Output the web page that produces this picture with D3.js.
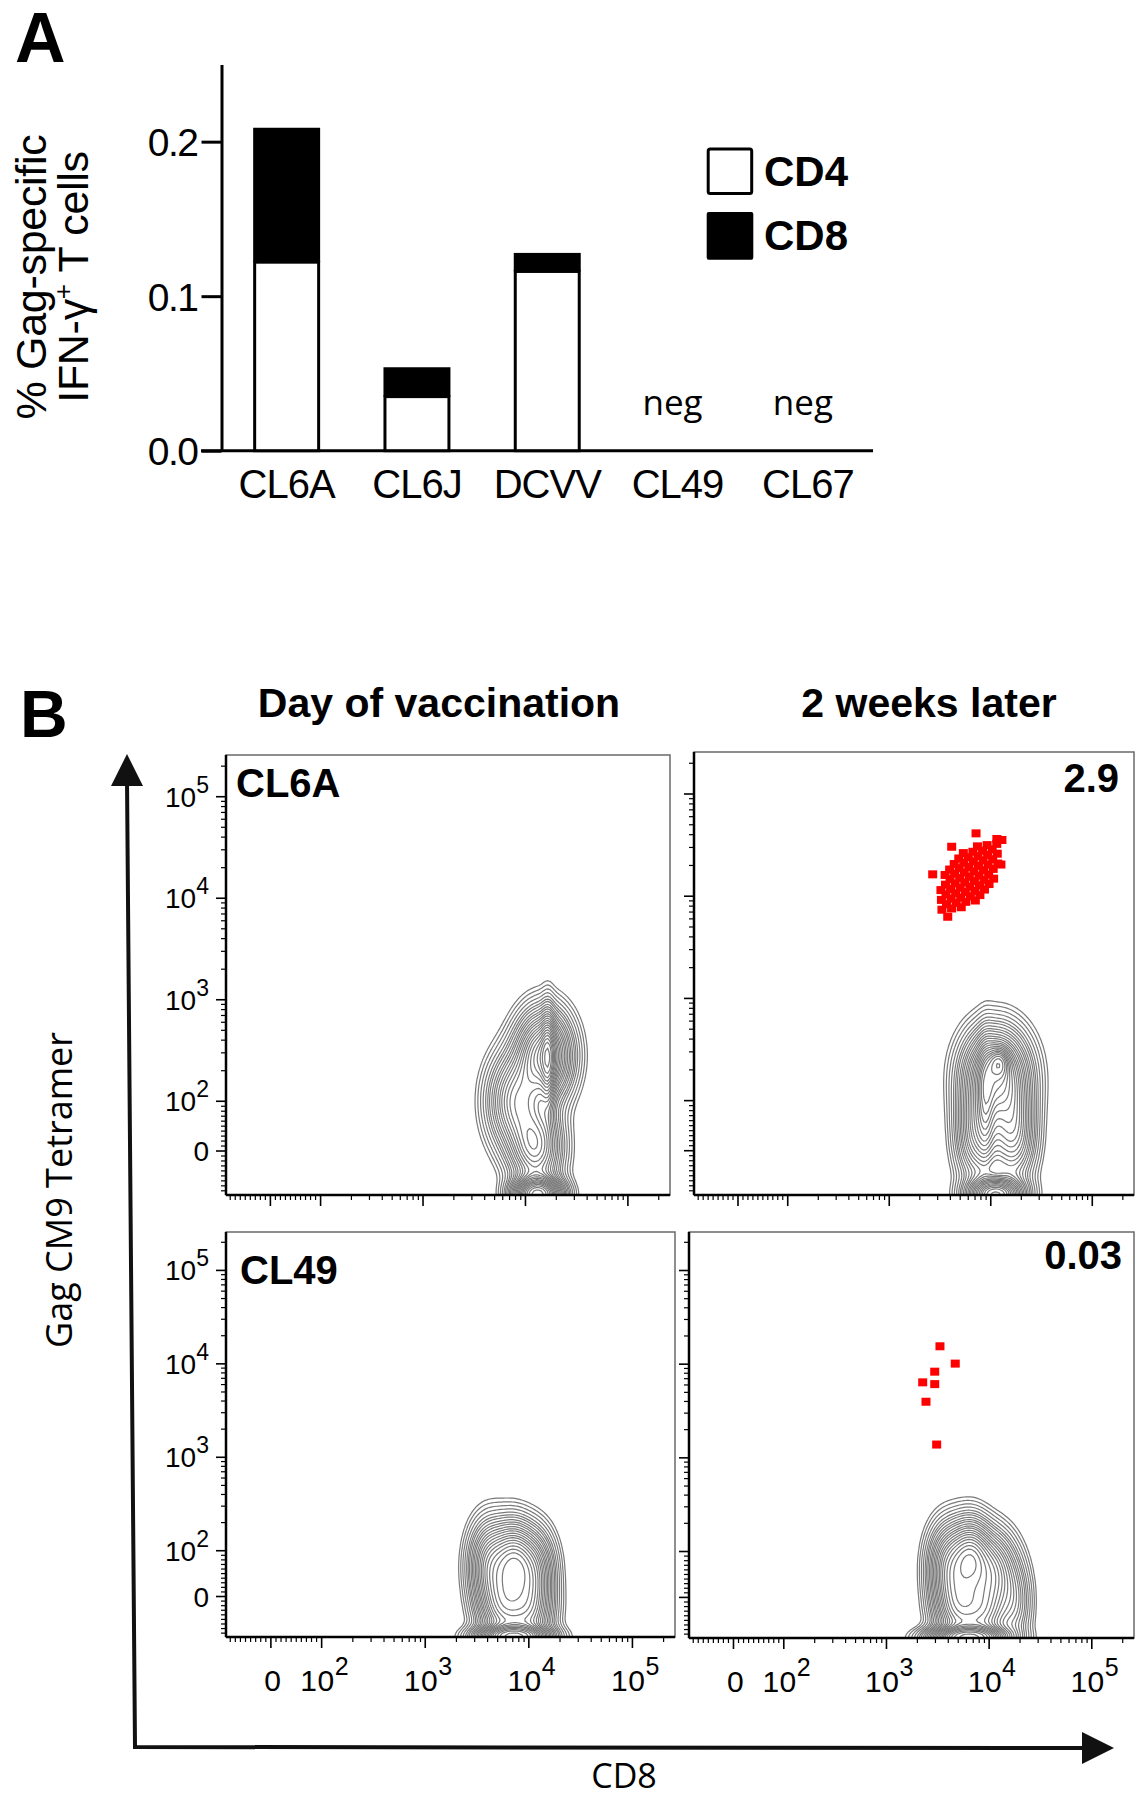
<!DOCTYPE html>
<html><head><meta charset="utf-8">
<script src="https://cdn.jsdelivr.net/npm/d3@7"></script>
<style>body{margin:0;background:#fff}svg{display:block}</style>
</head><body>
<svg id="c" width="1148" height="1800"></svg>
<script>
// ---------------- Panel A data ----------------
const categories = ["CL6A", "CL6J", "DCVV", "CL49", "CL67"];
const cd4Values = [0.122, 0.035, 0.116, null, null];
const cd8Values = [0.087, 0.019, 0.012, null, null];
const negLabels = ["", "", "", "neg", "neg"];
const yTicksA = [0.0, 0.1, 0.2];
const legendNames = ["CD4", "CD8"];

// ---------------- Panel B data ----------------
const columnTitles = ["Day of vaccination", "2 weeks later"];
const facsMajorTicks = [0, 1e2, 1e3, 1e4, 1e5];
const facsTickLabels = [["0", ""], ["10", "2"], ["10", "3"], ["10", "4"], ["10", "5"]];
const facsMinorTicks = [-80, -70, -60, -50, -40, -30, -20, -10, 10, 20, 30, 40, 50, 60, 70, 80, 90,
  200, 300, 400, 500, 600, 700, 800, 900, 2000, 3000, 4000, 5000, 6000, 7000, 8000, 9000,
  20000, 30000, 40000, 50000, 60000, 70000, 80000, 90000, 200000];
const contourLevels = [0.03, 0.045, 0.065, 0.09, 0.12, 0.15, 0.18, 0.22, 0.26, 0.3, 0.35, 0.4, 0.45, 0.51,
  0.57, 0.63, 0.7, 0.77, 0.85, 0.93, 1.01, 1.1, 1.2, 1.32, 1.45, 1.6, 1.8, 2.05];
// populations: [log10 CD8 centre, log10 tetramer centre, spread x, spread y, weight]
const cl6aDay0Blobs = [
  [4.18, 2.45, 0.16, 0.26, 1.0],
  [3.90, 2.00, 0.16, 0.28, 0.6],
  [4.10, 1.55, 0.15, 0.25, 0.7],
  [4.12, 1.08, 0.14, 0.10, 1.6],
  [4.22, 2.40, 0.04, 0.30, 0.4]
];
const cl6aWk2Blobs = [
  [4.05, 2.25, 0.19, 0.27, 1.0],
  [3.88, 1.70, 0.13, 0.30, 0.6],
  [4.22, 1.70, 0.13, 0.30, 0.6],
  [4.05, 1.08, 0.16, 0.10, 1.3],
  [4.08, 2.37, 0.06, 0.09, 0.5],
  [3.95, 2.00, 0.05, 0.35, 0.3]
];
const cl49Day0Blobs = [
  [3.62, 1.85, 0.12, 0.28, 0.6],
  [3.85, 1.90, 0.12, 0.25, 0.8],
  [4.05, 1.80, 0.12, 0.26, 0.55],
  [3.75, 1.40, 0.14, 0.25, 0.7],
  [4.00, 1.35, 0.14, 0.25, 0.6],
  [3.85, 1.08, 0.20, 0.07, 1.5]
];
const cl49Wk2Blobs = [
  [3.60, 1.85, 0.12, 0.27, 0.6],
  [3.82, 1.95, 0.12, 0.24, 0.85],
  [4.05, 1.80, 0.13, 0.25, 0.55],
  [4.25, 1.45, 0.10, 0.28, 0.25],
  [3.70, 1.40, 0.14, 0.25, 0.7],
  [3.95, 1.35, 0.14, 0.25, 0.6],
  [3.80, 1.08, 0.22, 0.07, 1.5]
];
// tetramer+ events: [log10 CD8, log10 tetramer]
const cl6aWk2Events = [
  [3.519,3.868],
  [3.564,3.922],[3.514,3.964],[3.614,3.880],
  [3.609,3.976],[3.559,4.018],[3.659,3.934],[3.509,4.060],[3.709,3.892],
  [3.654,4.029],[3.604,4.071],[3.704,3.987],[3.554,4.113],[3.754,3.945],
  [3.699,4.083],[3.649,4.125],[3.749,4.041],[3.599,4.167],[3.799,3.999],[3.550,4.208],[3.848,3.958],
  [3.744,4.136],[3.694,4.178],[3.794,4.094],[3.644,4.220],[3.844,4.052],[3.595,4.261],[3.893,4.011],
  [3.789,4.190],[3.739,4.232],[3.839,4.148],[3.689,4.274],[3.889,4.106],[3.640,4.315],[3.938,4.065],
  [3.834,4.244],[3.784,4.286],[3.884,4.202],[3.734,4.328],[3.934,4.160],[3.685,4.369],[3.983,4.119],
  [3.879,4.297],[3.829,4.339],[3.929,4.255],[3.779,4.381],[3.979,4.213],[3.730,4.422],[4.028,4.172],
  [3.924,4.351],[3.874,4.393],[3.974,4.309],[3.824,4.435],[4.024,4.267],
  [3.969,4.404],[3.919,4.446],[4.019,4.362],[3.869,4.488],[4.069,4.320],
  [4.014,4.458],[3.964,4.500],[4.064,4.416],
  [4.059,4.512],
  [3.428,4.214],[3.615,4.484],[3.855,4.615],[3.576,3.799],[4.06,4.56],[4.11,4.55],[4.10,4.31]
];
const cl49Wk2Events = [
  [3.521,4.191],[3.670,4.006],[3.470,3.920],[3.353,3.806],[3.470,3.787],[3.385,3.599],[3.489,3.142]
];

// ---------------- helpers ----------------
const decMin = 1.0767, decMax = 5.411;
function toDec(v) { return v >= 100 ? Math.log10(v) : 2 - 0.49 * (100 - v) / 100; }
const HELV = "'Liberation Sans', Arial, sans-serif";
const OPEN = "'Open Sans', sans-serif";

const svg = d3.select("#c");
svg.append("rect").attr("width", 1148).attr("height", 1800).attr("fill", "#fff");

// ================= Panel A =================
const gA = svg.append("g");
const xA = d3.scaleBand().domain(categories).range([221.5, 873]).paddingInner(0.486).paddingOuter(0.243);
const yA = d3.scaleLinear().domain([0, 0.25]).range([450.7, 64.4]);
const bw = xA.bandwidth();

gA.append("text").attr("x", 15).attr("y", 62).style("font", `bold 70px ${HELV}`).text("A");

const axA = d3.axisLeft(yA).tickValues(yTicksA).tickSize(20).tickSizeOuter(0).tickPadding(4).tickFormat(d3.format(".1f"));
const gax = gA.append("g").attr("transform", "translate(221.5,0)").call(axA);
gax.select(".domain").attr("stroke", "#000").attr("stroke-width", 3);
gax.selectAll(".tick line").attr("stroke", "#000").attr("stroke-width", 3);
gax.selectAll(".tick text").attr("fill", "#000").attr("dy", "0.36em").style("font", `39px ${HELV}`).style("letter-spacing", "-1.5px");
gA.append("line").attr("x1", 201).attr("x2", 873).attr("y1", yA(0)).attr("y2", yA(0)).attr("stroke", "#000").attr("stroke-width", 3);

categories.forEach((c, i) => {
  const x = xA(c);
  if (cd4Values[i] != null) {
    gA.append("rect").attr("x", x + 1.5).attr("y", yA(cd4Values[i])).attr("width", bw - 3)
      .attr("height", yA(0) - yA(cd4Values[i])).attr("fill", "#fff").attr("stroke", "#000").attr("stroke-width", 3);
    gA.append("rect").attr("x", x).attr("y", yA(cd4Values[i] + cd8Values[i])).attr("width", bw)
      .attr("height", yA(cd4Values[i]) - yA(cd4Values[i] + cd8Values[i])).attr("fill", "#000");
  }
  if (negLabels[i]) {
    gA.append("text").attr("x", x + bw / 2 - 5).attr("y", 415).attr("text-anchor", "middle")
      .style("font", `35px ${OPEN}`).text(negLabels[i]);
  }
  gA.append("text").attr("x", x + bw / 2).attr("y", 498).attr("text-anchor", "middle")
    .style("font", `40px ${HELV}`).style("letter-spacing", "-1px").text(c);
});

// y title
gA.append("text").attr("transform", "translate(46,277) rotate(-90)").attr("text-anchor", "middle")
  .style("font", `43px ${HELV}`).style("letter-spacing", "-0.3px").text("% Gag-specific");
const yt2 = gA.append("text").attr("transform", "translate(88,277) rotate(-90)").attr("text-anchor", "middle")
  .style("font", `43px ${HELV}`).style("letter-spacing", "-0.3px");
yt2.append("tspan").text("IFN-\u03B3");
yt2.append("tspan").attr("dy", -16).style("font-size", "26px").text("+");
yt2.append("tspan").attr("dy", 16).text(" T cells");

// legend
legendNames.forEach((n, i) => {
  const y = 149 + i * 64;
  if (i === 0) gA.append("rect").attr("x", 708.2).attr("y", y).attr("width", 43.5).attr("height", 44.5).attr("rx", 2)
    .attr("fill", "#fff").attr("stroke", "#000").attr("stroke-width", 3);
  else gA.append("rect").attr("x", 706.7).attr("y", y - 1).attr("width", 46.6).attr("height", 47.7).attr("rx", 2).attr("fill", "#000");
  gA.append("text").attr("x", 764).attr("y", y + 37).style("font", `bold 42px ${HELV}`).text(n);
});

// ================= Panel B =================
svg.append("text").attr("x", 20).attr("y", 737).style("font", `bold 66px ${HELV}`).text("B");
svg.append("text").attr("x", 439).attr("y", 717).attr("text-anchor", "middle").style("font", `bold 41px ${HELV}`).text(columnTitles[0]);
svg.append("text").attr("x", 929).attr("y", 717).attr("text-anchor", "middle").style("font", `bold 41px ${HELV}`).text(columnTitles[1]);

const panels = [
  { id: "tl", x0: 226, x1: 670, y0: 755, y1: 1195, blobs: cl6aDay0Blobs, events: [], yLab: true, xLab: false, tag: "CL6A", tagX: 236, tagY: 797, tagAnchor: "start" },
  { id: "tr", x0: 694, x1: 1134, y0: 752, y1: 1195, blobs: cl6aWk2Blobs, events: cl6aWk2Events, yLab: false, xLab: false, tag: "2.9", tagX: 1119, tagY: 792, tagAnchor: "end" },
  { id: "bl", x0: 226, x1: 675, y0: 1232, y1: 1637, blobs: cl49Day0Blobs, events: [], yLab: true, xLab: true, tag: "CL49", tagX: 240, tagY: 1284, tagAnchor: "start" },
  { id: "br", x0: 689, x1: 1134, y0: 1232, y1: 1638, blobs: cl49Wk2Blobs, events: cl49Wk2Events, yLab: false, xLab: true, tag: "0.03", tagX: 1122, tagY: 1269, tagAnchor: "end" }
];

const defs = svg.append("defs");
panels.forEach(p => {
  const xS = d3.scaleLinear().domain([decMin, decMax]).range([p.x0, p.x1]);
  const yS = d3.scaleLinear().domain([decMin, decMax]).range([p.y1, p.y0]);
  const g = svg.append("g");
  defs.append("clipPath").attr("id", "clip-" + p.id).append("rect")
    .attr("x", p.x0).attr("y", p.y0).attr("width", p.x1 - p.x0).attr("height", p.y1 - p.y0);

  // density grid -> contours
  const step = 0.022, g0 = decMin - 0.05;
  const n = Math.ceil((decMax - g0) / step) + 1;
  const values = new Float64Array(n * n);
  for (let j = 0; j < n; j++) {
    const yv = g0 + j * step;
    for (let i = 0; i < n; i++) {
      const xv = g0 + i * step;
      let s = 0;
      for (const b of p.blobs) {
        const dx = (xv - b[0]) / b[2], dy = (yv - b[1]) / b[3];
        s += b[4] * Math.exp(-0.5 * (dx * dx + dy * dy));
      }
      values[j * n + i] = s;
    }
  }
  const cont = d3.contours().size([n, n]).thresholds(contourLevels)(values);
  const proj = d3.geoTransform({ point(x, y) { this.stream.point(xS(g0 + (x - 0.5) * step), yS(g0 + (y - 0.5) * step)); } });
  const path = d3.geoPath(proj);
  g.append("g").attr("clip-path", `url(#clip-${p.id})`).selectAll("path").data(cont).join("path")
    .attr("d", path).attr("fill", "none").attr("stroke", "#7a7a7a").attr("stroke-width", 1.2);

  // frame
  g.append("rect").attr("x", p.x0).attr("y", p.y0).attr("width", p.x1 - p.x0).attr("height", p.y1 - p.y0)
    .attr("fill", "none").attr("stroke", "#6a6a6a").attr("stroke-width", 1.5);
  g.append("line").attr("x1", p.x0).attr("x2", p.x0).attr("y1", p.y0).attr("y2", p.y1).attr("stroke", "#000").attr("stroke-width", 2.5);
  g.append("line").attr("x1", p.x0).attr("x2", p.x1).attr("y1", p.y1).attr("y2", p.y1).attr("stroke", "#000").attr("stroke-width", 2.5);

  // ticks
  facsMajorTicks.forEach(v => {
    const yy = yS(toDec(v)), xx = xS(toDec(v));
    g.append("line").attr("x1", p.x0 - 10).attr("x2", p.x0).attr("y1", yy).attr("y2", yy).attr("stroke", "#000").attr("stroke-width", 1.6);
    g.append("line").attr("x1", xx).attr("x2", xx).attr("y1", p.y1).attr("y2", p.y1 + 11).attr("stroke", "#000").attr("stroke-width", 1.6);
  });
  facsMinorTicks.forEach(v => {
    const yy = yS(toDec(v)), xx = xS(toDec(v));
    g.append("line").attr("x1", p.x0 - 5).attr("x2", p.x0).attr("y1", yy).attr("y2", yy).attr("stroke", "#000").attr("stroke-width", 1.2);
    g.append("line").attr("x1", xx).attr("x2", xx).attr("y1", p.y1).attr("y2", p.y1 + 5).attr("stroke", "#000").attr("stroke-width", 1.2);
  });
  if (p.yLab) {
    facsMajorTicks.forEach((v, k) => {
      const t = g.append("text").attr("x", p.x0 - 17).attr("y", yS(toDec(v)) + 10).attr("text-anchor", "end")
        .style("font", `28px ${HELV}`);
      t.append("tspan").text(facsTickLabels[k][0]);
      if (facsTickLabels[k][1]) t.append("tspan").attr("dy", -14).style("font-size", "23px").text(facsTickLabels[k][1]);
    });
  }
  if (p.xLab) {
    facsMajorTicks.forEach((v, k) => {
      const t = g.append("text").attr("x", xS(toDec(v)) + (k === 0 ? 2 : 3)).attr("y", p.y1 + 54).attr("text-anchor", "middle")
        .style("font", `30px ${HELV}`).style("letter-spacing", "0.5px");
      t.append("tspan").text(facsTickLabels[k][0]);
      if (facsTickLabels[k][1]) t.append("tspan").attr("dy", -16).style("font-size", "25px").text(facsTickLabels[k][1]);
    });
  }

  // events
  g.selectAll("rect.ev").data(p.events).join("rect").attr("class", "ev")
    .attr("x", d => xS(d[0]) - 4.5).attr("y", d => yS(d[1]) - 4).attr("width", 9).attr("height", 8).attr("fill", "#ff0000");

  // tag
  g.append("text").attr("x", p.tagX).attr("y", p.tagY).attr("text-anchor", p.tagAnchor)
    .style("font", `bold 40px ${HELV}`).text(p.tag);
});

// big axis arrows
svg.append("path").attr("d", "M127,780 L135,1747 L1090,1748").attr("fill", "none").attr("stroke", "#111").attr("stroke-width", 4);
svg.append("path").attr("d", "M127,754 L143,786 L111,786 Z").attr("fill", "#111");
svg.append("path").attr("d", "M1114,1748 L1082,1732 L1082,1764 Z").attr("fill", "#111");
svg.append("text").attr("transform", "translate(72,1190) rotate(-90)").attr("text-anchor", "middle")
  .style("font", `36px ${OPEN}`).text("Gag CM9 Tetramer");
svg.append("text").attr("x", 624).attr("y", 1788).attr("text-anchor", "middle").style("font", `34px ${OPEN}`).text("CD8");
</script>
</body></html>
